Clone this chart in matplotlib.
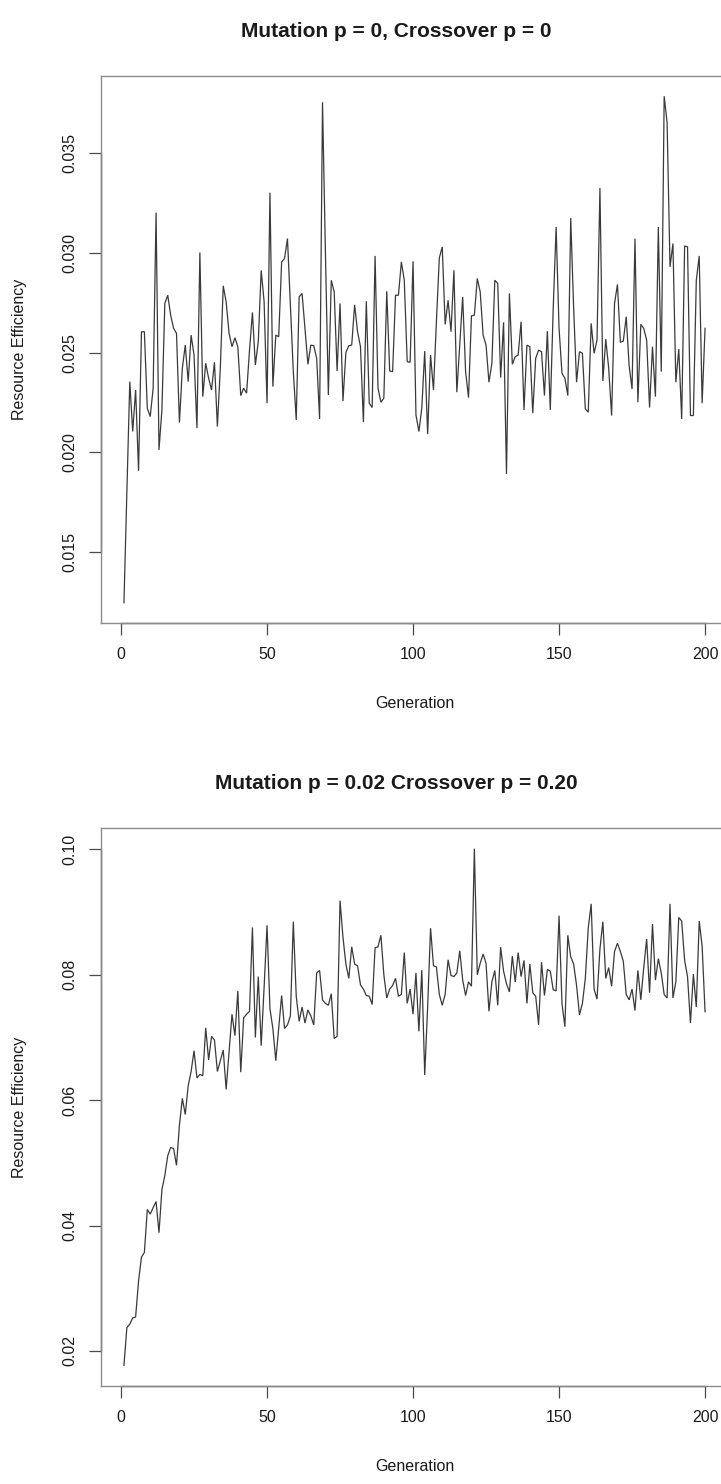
import matplotlib

matplotlib.use("Agg")
import matplotlib.pyplot as plt
import numpy as np

plt.rcParams["font.family"] = ["Liberation Sans", "DejaVu Sans"]

TEXT = "#1a1a1a"
LINE = "#3a3a3a"
BOX = "#8c8c8c"

GENERATIONS = np.arange(1, 201)
X_TICKS = [0, 50, 100, 150, 200]

TOP_TITLE = "Mutation p = 0, Crossover p = 0"
TOP_VALUES = [
    0.01247, 0.0180, 0.02355, 0.02105, 0.02313, 0.01908, 0.02605, 0.02605, 0.02222, 0.0218,
    0.02322, 0.03202, 0.02013, 0.02213, 0.02747, 0.02788, 0.02688, 0.02622, 0.02597, 0.0215,
    0.02422, 0.02538, 0.02355, 0.02588, 0.02488, 0.02122, 0.03002, 0.0228, 0.02447, 0.02372,
    0.02313, 0.02452, 0.0213, 0.02422, 0.02835, 0.02755, 0.02597, 0.0253, 0.02575, 0.0253,
    0.02285, 0.02322, 0.02297, 0.02513, 0.02702, 0.02438, 0.02555, 0.02913, 0.02755, 0.02247,
    0.03302, 0.0233, 0.02588, 0.0258, 0.02955, 0.02972, 0.03072, 0.0274, 0.02405, 0.02163,
    0.0278, 0.02797, 0.02622, 0.02442, 0.02538, 0.02535, 0.02472, 0.02168, 0.03755, 0.0300,
    0.02288, 0.02863, 0.02805, 0.02408, 0.02747, 0.02258, 0.0250, 0.02535, 0.02538, 0.0274,
    0.02605, 0.0253, 0.02152, 0.02758, 0.02247, 0.02225, 0.02985, 0.02322, 0.02252, 0.02272,
    0.02808, 0.02408, 0.02405, 0.02788, 0.02788, 0.02955, 0.02863, 0.02455, 0.02452, 0.02958,
    0.02188, 0.02105, 0.02222, 0.02508, 0.02092, 0.02488, 0.02313, 0.02655, 0.02975, 0.0303,
    0.02642, 0.02763, 0.02605, 0.02913, 0.02302, 0.02538, 0.0278, 0.02405, 0.02275, 0.02685,
    0.02688, 0.02872, 0.02805, 0.02588, 0.02538, 0.02352, 0.02447, 0.02863, 0.02847, 0.02375,
    0.02652, 0.01892, 0.02797, 0.02442, 0.0248, 0.02488, 0.02655, 0.02213, 0.02538, 0.0253,
    0.02197, 0.02472, 0.02513, 0.02505, 0.02285, 0.02608, 0.02213, 0.02722, 0.0313, 0.02622,
    0.02397, 0.02372, 0.02285, 0.03175, 0.02722, 0.02352, 0.02505, 0.02497, 0.02218, 0.02202,
    0.02647, 0.02497, 0.02563, 0.03325, 0.02358, 0.02568, 0.02422, 0.02185, 0.02747, 0.02842,
    0.02552, 0.02558, 0.0268, 0.02435, 0.02318, 0.03072, 0.02252, 0.02642, 0.02622, 0.02563,
    0.02225, 0.0253, 0.0228, 0.0313, 0.02405, 0.03785, 0.03655, 0.0293, 0.03047, 0.02352,
    0.02518, 0.02168, 0.03035, 0.0303, 0.02185, 0.02185, 0.02863, 0.02985, 0.02247, 0.02622,
]
TOP_Y_TICKS = [0.015, 0.020, 0.025, 0.030, 0.035]
TOP_Y_LABELS = ["0.015", "0.020", "0.025", "0.030", "0.035"]

BOTTOM_TITLE = "Mutation p = 0.02 Crossover p = 0.20"
BOTTOM_VALUES = [
    0.01771, 0.02371, 0.02429, 0.02526, 0.02543, 0.03114, 0.03497, 0.03571, 0.04257, 0.04183,
    0.04286, 0.04383, 0.03886, 0.04571, 0.048, 0.05114, 0.05246, 0.05229, 0.0496, 0.056,
    0.06029, 0.05771, 0.06229, 0.06457, 0.06789, 0.06354, 0.06411, 0.06389, 0.07154, 0.0664,
    0.07017, 0.0696, 0.06457, 0.06629, 0.068, 0.06171, 0.06771, 0.07371, 0.07029, 0.07743,
    0.06446, 0.07314, 0.07371, 0.07417, 0.08754, 0.07, 0.07971, 0.06869, 0.078, 0.08789,
    0.0746, 0.07143, 0.06629, 0.07143, 0.07669, 0.07143, 0.072, 0.07343, 0.08846, 0.07657,
    0.07257, 0.07486, 0.07229, 0.0744, 0.07343, 0.072, 0.08029, 0.08069, 0.076, 0.07543,
    0.07514, 0.07697, 0.06983, 0.07017, 0.09183, 0.086, 0.08171, 0.07943, 0.08446, 0.08171,
    0.08143, 0.0784, 0.07771, 0.07669, 0.07657, 0.07526, 0.08429, 0.08446, 0.08629, 0.08,
    0.07629, 0.07771, 0.07829, 0.07943, 0.07657, 0.07686, 0.08354, 0.07543, 0.07771, 0.07371,
    0.08029, 0.07097, 0.08074, 0.064, 0.07486, 0.08743, 0.08143, 0.08126, 0.07686, 0.07514,
    0.07686, 0.0824, 0.07989, 0.07971, 0.08029, 0.08383, 0.07914, 0.07669, 0.07886, 0.07817,
    0.10011, 0.08, 0.08183, 0.08331, 0.08183, 0.07417, 0.07886, 0.08069, 0.07514, 0.0844,
    0.08057, 0.07857, 0.07726, 0.08297, 0.07886, 0.08354, 0.07971, 0.08229, 0.07543, 0.08171,
    0.07714, 0.07657, 0.072, 0.082, 0.07669, 0.08086, 0.08057, 0.0776, 0.07743, 0.08943,
    0.07543, 0.07171, 0.08629, 0.08286, 0.08171, 0.07829, 0.0736, 0.07543, 0.07943, 0.08743,
    0.09131, 0.07771, 0.07611, 0.08411, 0.08846, 0.07943, 0.08114, 0.07817, 0.08371, 0.08503,
    0.08371, 0.08217, 0.07686, 0.076, 0.07771, 0.07429, 0.08069, 0.076, 0.08114, 0.08571,
    0.07714, 0.08811, 0.07914, 0.08257, 0.08029, 0.07686, 0.07629, 0.09131, 0.07629, 0.07886,
    0.08914, 0.08857, 0.08229, 0.07971, 0.07229, 0.08011, 0.07486, 0.08857, 0.08457, 0.07411,
]
BOTTOM_Y_TICKS = [0.02, 0.04, 0.06, 0.08, 0.10]
BOTTOM_Y_LABELS = ["0.02", "0.04", "0.06", "0.08", "0.10"]

X_LABEL = "Generation"
Y_LABEL = "Resource Efficiency"

W, H = 721, 1484
TITLE_X_PX = 396


def _r_limits(values):
    # base R pads the data range by 4% on each side
    lo, hi = min(values), max(values)
    pad = 0.04 * (hi - lo)
    return lo - pad, hi + pad


def _panel(fig, rect_px, values, title, y_ticks, y_labels):
    left, top, right, bottom = rect_px
    ax = fig.add_axes([left / W, 1 - bottom / H, (right - left) / W, (bottom - top) / H])
    ax.plot(GENERATIONS, values, color=LINE, linewidth=0.9, solid_joinstyle="miter")
    ax.set_xlim(*_r_limits(GENERATIONS))
    ax.set_ylim(*_r_limits(values))

    for spine in ax.spines.values():
        spine.set_color(BOX)
        spine.set_linewidth(1.0)
    # axis lines only span the tick range, drawn over the box
    ax.plot([X_TICKS[0], X_TICKS[-1]], [0, 0], transform=ax.get_xaxis_transform(),
            color="#4a4a4a", linewidth=1.0, clip_on=False)
    ax.plot([0, 0], [y_ticks[0], y_ticks[-1]], transform=ax.get_yaxis_transform(),
            color="#4a4a4a", linewidth=1.0, clip_on=False)

    ax.set_xticks(X_TICKS)
    ax.set_xticklabels([str(t) for t in X_TICKS])
    ax.set_yticks(y_ticks)
    ax.set_yticklabels(y_labels, rotation=90, va="center")
    ax.tick_params(direction="out", length=8.5, width=0.9, color="#4a4a4a",
                   labelsize=11.5, labelcolor=TEXT, pad=9)
    ax.tick_params(axis="y", pad=8)

    title_x = (TITLE_X_PX - left) / (right - left)
    ax.set_title(title, x=title_x, fontsize=15, fontweight="bold", color=TEXT, pad=28)
    ax.set_xlabel(X_LABEL, fontsize=11.5, color=TEXT, labelpad=24)
    ax.set_ylabel(Y_LABEL, fontsize=11.5, color=TEXT, labelpad=26)
    return ax


fig = plt.figure(figsize=(W / 100, H / 100), dpi=100, facecolor="white")
_panel(fig, (100.7, 76, 728.3, 623), TOP_VALUES, TOP_TITLE, TOP_Y_TICKS, TOP_Y_LABELS)
_panel(fig, (100.7, 828, 728.3, 1386), BOTTOM_VALUES, BOTTOM_TITLE, BOTTOM_Y_TICKS, BOTTOM_Y_LABELS)

fig.savefig("out.png", dpi=100, facecolor="white")
